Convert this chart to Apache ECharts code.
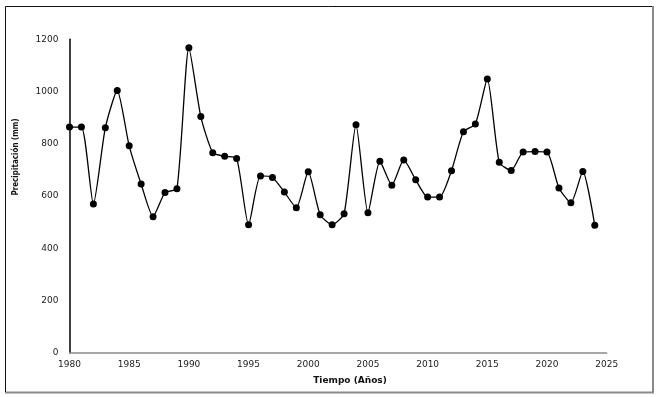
<!DOCTYPE html>
<html>
<head>
<meta charset="utf-8">
<script src="https://cdn.jsdelivr.net/npm/echarts@6/dist/echarts.min.js"></script>
<style>
html, body { margin: 0; padding: 0; background: #fff; }
#chart { width: 659px; height: 397px; }
</style>
</head>
<body>
<div id="chart"></div>
<script>
var years = [1980, 1981, 1982, 1983, 1984, 1985, 1986, 1987, 1988, 1989,
	1990, 1991, 1992, 1993, 1994, 1995, 1996, 1997, 1998, 1999,
	2000, 2001, 2002, 2003, 2004, 2005, 2006, 2007, 2008, 2009,
	2010, 2011, 2012, 2013, 2014, 2015, 2016, 2017, 2018, 2019,
	2020, 2021, 2022, 2023, 2024];
var precip = [864, 864, 569, 861, 1004, 792, 646, 521, 613, 628,
	1168, 904, 766, 752, 744, 490, 677, 671, 615, 555,
	693, 528, 490, 532, 873, 536, 733, 641, 738, 662,
	596, 596, 697, 846, 876, 1048, 729, 698, 768, 770,
	768, 631, 574, 694, 488];
var xTicks = [1980, 2025, 5];
var yTicks = [0, 1200, 200];

var myChart = echarts.init(document.getElementById('chart'));

var points = [];
for (let i in years) {
	points.push([years[i], precip[i]]);
}

var labelFont = {
	fontFamily: 'DejaVu Sans',
	fontSize: 9,
	color: '#222',
	formatter: function (v) { return String(v); }
};

var option = {
	animation: false,
	backgroundColor: '#fff',
	grid: {
		left: 69.5,
		top: 39.3,
		right: 52.3,
		bottom: 44.3
	},
	xAxis: {
		type: 'value',
		min: xTicks[0],
		max: xTicks[1],
		interval: xTicks[2],
		axisLine: { lineStyle: { color: '#8a8a8a', width: 1.5 } },
		axisTick: { show: false },
		splitLine: { show: false },
		axisLabel: Object.assign({ margin: 7 }, labelFont)
	},
	yAxis: {
		type: 'value',
		min: yTicks[0],
		max: yTicks[1],
		interval: yTicks[2],
		axisLine: { show: true, lineStyle: { color: '#000', width: 1.5 } },
		axisTick: { show: false },
		splitLine: { show: false },
		axisLabel: Object.assign({ margin: 11 }, labelFont)
	},
	graphic: [
		{
			type: 'polyline',
			shape: { points: [[653, 6], [653, 392.5], [5, 392.5]] },
			style: { stroke: '#8a8a8a', lineWidth: 2, fill: null }
		},
		{
			type: 'polyline',
			shape: { points: [[5.5, 392], [5.5, 6.5], [652, 6.5]] },
			style: { stroke: '#111', lineWidth: 1, fill: null }
		},
		{
			type: 'text',
			x: 16,
			y: 157,
			rotation: Math.PI / 2,
			style: {
				text: 'Precipitación (mm)',
				fontFamily: 'DejaVu Sans Condensed',
				fontWeight: 'bold',
				fontSize: 8,
				fill: '#111',
				align: 'center',
				verticalAlign: 'middle'
			}
		},
		{
			type: 'text',
			x: 350,
			y: 381,
			style: {
				text: 'Tiempo (Años)',
				fontFamily: 'DejaVu Sans',
				fontWeight: 'bold',
				fontSize: 9,
				fill: '#111',
				align: 'center',
				verticalAlign: 'middle'
			}
		}
	],
	series: [{
		type: 'line',
		data: points,
		smooth: 0.2,
		symbol: 'circle',
		symbolSize: 7,
		lineStyle: { color: '#000', width: 1.3 },
		itemStyle: { color: '#000' }
	}]
};

myChart.setOption(option);
</script>
</body>
</html>
